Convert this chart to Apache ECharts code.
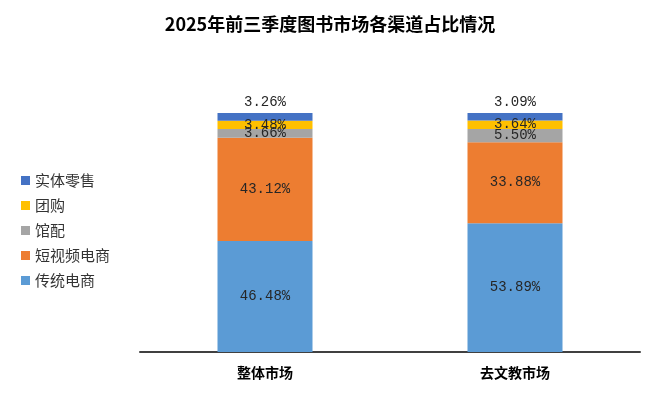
<!DOCTYPE html>
<html>
<head>
<meta charset="utf-8">
<script src="https://cdn.jsdelivr.net/npm/echarts@6/dist/echarts.min.js"></script>
<style>
  html, body { margin: 0; padding: 0; background: #fff; }
  #chart { width: 660px; height: 396px; }
</style>
</head>
<body>
<div id="chart"></div>
<script>
const categories = ['整体市场', '去文教市场'];
const channels = ['传统电商', '短视频电商', '馆配', '团购', '实体零售'];
const colors = ['#5B9BD5', '#ED7D31', '#A5A5A5', '#FFC000', '#4472C4'];
// share per channel: [整体市场, 去文教市场]
const traditional = [46.48, 53.89];
const shortVideo = [43.12, 33.88];
const library = [3.66, 5.50];
const groupBuy = [3.48, 3.64];
const retail = [3.26, 3.09];
const values = [traditional, shortVideo, library, groupBuy, retail];

const chart = echarts.init(document.getElementById('chart'));

const series = channels.map(function (name, i) {
  return {
    name: name,
    type: 'bar',
    stack: 'total',
    barWidth: '38%',
    data: values[i],
    itemStyle: { color: colors[i] },
    label: {
      show: true,
      position: i === channels.length - 1 ? 'top' : 'inside',
      distance: 4,
      formatter: function (p) { return p.value.toFixed(2) + '%'; },
      fontFamily: 'Liberation Mono',
      fontSize: 14,
      color: '#262626'
    }
  };
});

chart.setOption({
  backgroundColor: '#fff',
  title: {
    text: '2025年前三季度图书市场各渠道占比情况',
    left: 'center',
    top: 10,
    textStyle: {
      fontFamily: 'Noto Sans CJK SC',
      fontSize: 18,
      fontWeight: 'bold',
      color: '#000'
    }
  },
  legend: {
    orient: 'vertical',
    left: 16,
    top: 168,
    itemWidth: 9,
    itemHeight: 9,
    itemGap: 10,
    icon: 'rect',
    data: channels.slice().reverse(),
    textStyle: {
      fontFamily: 'Noto Sans CJK SC',
      fontSize: 15,
      color: '#333'
    }
  },
  grid: { left: 140, right: 20, top: 113, bottom: 44 },
  xAxis: {
    type: 'category',
    data: categories,
    axisLine: { lineStyle: { color: '#404040', width: 2 } },
    axisTick: { show: false },
    axisLabel: {
      margin: 14,
      fontFamily: 'Noto Sans CJK SC',
      fontSize: 14,
      fontWeight: 'bold',
      color: '#000'
    }
  },
  yAxis: {
    type: 'value',
    min: 0,
    max: 100,
    show: false
  },
  series: series
});
</script>
</body>
</html>
